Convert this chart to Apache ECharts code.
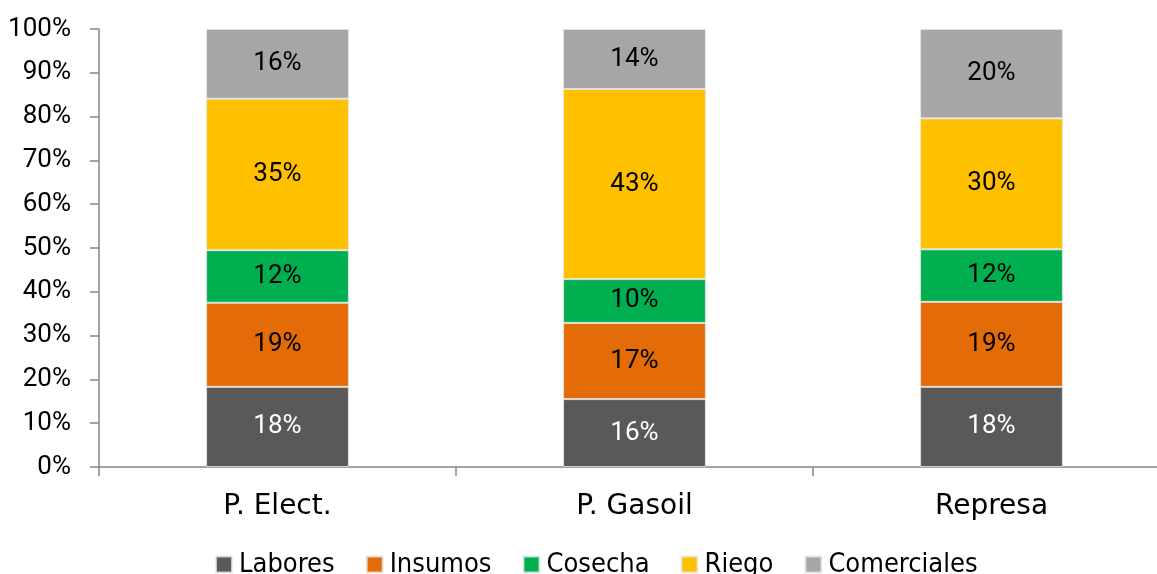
<!DOCTYPE html>
<html><head><meta charset="utf-8">
<script src="https://cdn.jsdelivr.net/npm/echarts@6/dist/echarts.min.js"></script>
<style>html,body{margin:0;padding:0;background:#fff}#c{width:1157px;height:574px}</style>
</head><body><div id="c"></div>
<script>
const categories = ['P. Elect.', 'P. Gasoil', 'Represa'];
const seriesNames = ['Labores', 'Insumos', 'Cosecha', 'Riego', 'Comerciales'];
const labores = [18.3, 15.5, 18.3];
const insumos = [19.2, 17.4, 19.4];
const cosecha = [12.0, 10.0, 12.0];
const riego = [34.6, 43.4, 29.9];
const comerciales = [15.9, 13.7, 20.4];
const colors = ['#595959', '#E36C09', '#00B050', '#FFC000', '#A6A6A6'];
const labelColors = ['#ffffff', '#000000', '#000000', '#000000', '#000000'];
const NARROW = "Roboto, 'DejaVu Sans Condensed', sans-serif";
const COND = "'DejaVu Sans Condensed', 'DejaVu Sans', sans-serif";
const WIDE = "'DejaVu Sans', sans-serif";
const allData = [labores, insumos, cosecha, riego, comerciales];
const chart = echarts.init(document.getElementById('c'));
chart.setOption({
  animation: false,
  textStyle: { fontFamily: COND },
  grid: { left: 99, width: 1071, top: 29, bottom: 107, containLabel: false, outerBoundsMode: 'none' },
  legend: {
    top: 546, left: 210, itemWidth: 16, itemHeight: 16, itemGap: 31, icon: 'rect',
    textStyle: { fontSize: 27, color: '#000', fontFamily: COND, padding: [0, 0, 0, 2] },
    data: seriesNames
  },
  xAxis: {
    type: 'category', data: categories,
    axisLine: { lineStyle: { color: '#868686', width: 1.5 } },
    axisTick: { show: true, length: 9, lineStyle: { color: '#868686', width: 1.5 } },
    axisLabel: { fontSize: 28, color: '#000', margin: 26, fontFamily: WIDE }
  },
  yAxis: {
    type: 'value', min: 0, max: 100, interval: 10,
    axisLine: { show: true, lineStyle: { color: '#868686', width: 1.5 } },
    axisTick: { show: true, length: 9, lineStyle: { color: '#868686', width: 1.5 } },
    splitLine: { show: false },
    axisLabel: { formatter: '{value}%', fontSize: 26, color: '#000', margin: 28, fontFamily: NARROW }
  },
  series: seriesNames.map((n, i) => ({
    name: n, type: 'bar', stack: 'total', barWidth: '40%',
    data: allData[i],
    itemStyle: { color: colors[i], borderColor: 'rgba(230,230,230,0.8)', borderWidth: 1 },
    label: { show: true, position: 'inside', fontSize: 26, color: labelColors[i], fontFamily: NARROW,
      formatter: p => Math.round(p.value) + '%' }
  }))
});
</script></body></html>
